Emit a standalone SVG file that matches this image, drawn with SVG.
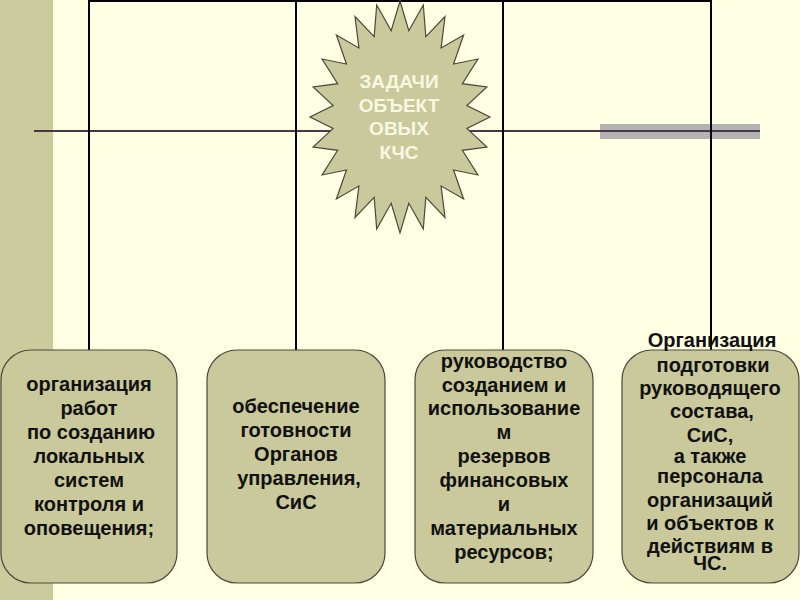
<svg xmlns="http://www.w3.org/2000/svg" width="800" height="600" viewBox="0 0 800 600">
<style>
.box{fill:#c9c99b;stroke:#4a4a3c;stroke-width:1.2}
.t{font-family:"Liberation Sans",Arial,sans-serif;font-weight:bold;font-size:20px;fill:#111;text-anchor:middle}
.st{font-family:"Liberation Sans",Arial,sans-serif;font-weight:bold;font-size:19px;fill:#f8f8e2;text-anchor:middle}
.v{stroke:#000;stroke-width:2;fill:none}
.h{stroke:#4d3347;stroke-width:2;fill:none}
</style>
<rect x="0" y="0" width="800" height="600" fill="#ffffe3"/>
<rect x="0" y="0" width="53" height="600" fill="#cbcb9d"/>
<g id="connectors">
<rect x="600" y="124" width="160" height="15" fill="#b3b3b3"/>
<line class="h" x1="34" y1="131" x2="760" y2="131"/>
<line class="v" x1="89" y1="1" x2="712" y2="1"/>
<line class="v" x1="89" y1="0" x2="89" y2="350"/>
<line class="v" x1="296" y1="0" x2="296" y2="350"/>
<line class="v" x1="503" y1="0" x2="503" y2="350"/>
<line class="v" x1="711" y1="0" x2="711" y2="350"/>
</g>
<g id="center">
<polygon class="box" points="400,1 408.81,30.74 423.29,4.95 425.83,36.62 445,16.54 441.09,47.98 463.64,34.98 453.55,64.04 477.94,59 462.36,83.71 486.93,86.98 466.92,105.64 490,117 466.92,128.36 486.93,147.02 462.36,150.29 477.94,175 453.55,169.96 463.64,199.02 441.09,186.02 445,217.46 425.83,197.38 423.29,229.05 408.81,203.26 400,233 391.19,203.26 376.71,229.05 374.17,197.38 355,217.46 358.91,186.02 336.36,199.02 346.45,169.96 322.06,175 337.64,150.29 313.07,147.02 333.08,128.36 310,117 333.08,105.64 313.07,86.98 337.64,83.71 322.06,59 346.45,64.04 336.36,34.98 358.91,47.98 355,16.54 374.17,36.62 376.71,4.95 391.19,30.74"/>
<text class="st" x="399" y="88">ЗАДАЧИ</text>
<text class="st" x="399" y="112">ОБЪЕКТ</text>
<text class="st" x="399" y="135">ОВЫХ</text>
<text class="st" x="399" y="159">КЧС</text>
</g>
<g id="box1">
<rect class="box" x="1" y="350" width="176" height="233" rx="30"/>
<text class="t" x="89" y="391">организация</text>
<text class="t" x="89" y="415">работ</text>
<text class="t" x="91" y="439">по созданию</text>
<text class="t" x="89" y="463">локальных</text>
<text class="t" x="89" y="487">систем</text>
<text class="t" x="89" y="511">контроля и</text>
<text class="t" x="89" y="535">оповещения;</text>
</g>
<g id="box2">
<rect class="box" x="207" y="350" width="178" height="233" rx="30"/>
<text class="t" x="296" y="413">обеспечение</text>
<text class="t" x="296" y="437">готовности</text>
<text class="t" x="296" y="461">Органов</text>
<text class="t" x="299" y="485">управления,</text>
<text class="t" x="296" y="509">СиС</text>
</g>
<g id="box3">
<rect class="box" x="415" y="350" width="178" height="233" rx="30"/>
<text class="t" x="504" y="368">руководство</text>
<text class="t" x="504" y="392">созданием и</text>
<text class="t" x="504" y="415">использование</text>
<text class="t" x="504" y="439">м</text>
<text class="t" x="504" y="463">резервов</text>
<text class="t" x="504" y="487">финансовых</text>
<text class="t" x="504" y="511">и</text>
<text class="t" x="504" y="535">материальных</text>
<text class="t" x="504" y="559">ресурсов;</text>
</g>
<g id="box4">
<rect class="box" x="622" y="350" width="177" height="233" rx="30"/>
<text class="t" x="712" y="347">Организация</text>
<text class="t" x="713" y="372">подготовки</text>
<text class="t" x="710" y="395">руководящего</text>
<text class="t" x="712" y="418">состава,</text>
<text class="t" x="710" y="442">СиС,</text>
<text class="t" x="710" y="463">а также</text>
<text class="t" x="710" y="483">персонала</text>
<text class="t" x="710" y="507">организаций</text>
<text class="t" x="710" y="530">и объектов к</text>
<text class="t" x="710" y="553">действиям в</text>
<text class="t" x="710" y="570">ЧС.</text>
</g>
</svg>
